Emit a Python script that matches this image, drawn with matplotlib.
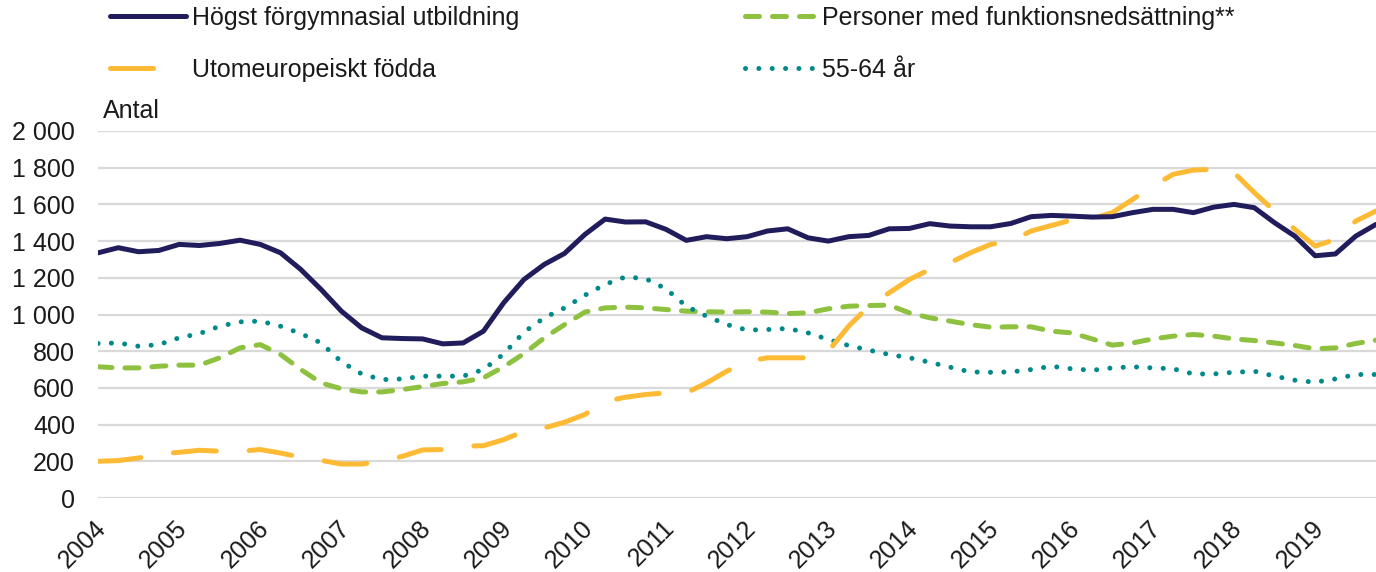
import matplotlib
matplotlib.use("Agg")
import matplotlib.pyplot as plt
import matplotlib.transforms as mtransforms
import numpy as np
from matplotlib.ticker import FuncFormatter

plt.rcParams['font.family'] = ['Liberation Sans', 'DejaVu Sans']

# Quarterly observations, 2004 Q1 .. 2019 Q4 (x = year + quarter/4)
start_year = 2004
n_quarters = 64
years = [2004 + i for i in range(16)]
year_labels = [str(y) for y in years]

hogst_forgymnasial = [
    1336, 1364, 1342, 1349,
    1382, 1376, 1387, 1405,
    1382, 1336, 1245, 1136,
    1018, 927, 873, 869,
    867, 840, 845, 909,
    1064, 1191, 1273, 1333,
    1436, 1520, 1504, 1505,
    1464, 1404, 1424, 1413,
    1424, 1455, 1467, 1418,
    1400, 1424, 1431, 1467,
    1469, 1495, 1482, 1478,
    1478, 1496, 1533, 1540,
    1536, 1531, 1533, 1555,
    1573, 1573, 1555, 1585,
    1600, 1582, 1500, 1427,
    1320, 1330, 1427, 1491,
]

utomeuropeiskt = [
    200, 204, 218, 240,
    249, 260, 255, 255,
    264, 245, 222, 205,
    185, 185, 200, 227,
    262, 264, 282, 285,
    318, 364, 382, 413,
    455, 527, 549, 564,
    573, 573, 627, 691,
    745, 764, 764, 764,
    800, 936, 1045, 1118,
    1191, 1245, 1282, 1336,
    1382, 1400, 1455, 1485,
    1515, 1522, 1555, 1627,
    1700, 1764, 1787, 1791,
    1773, 1664, 1564, 1464,
    1373, 1409, 1509, 1564,
]

funktionsnedsattning = [
    715, 709, 709, 718,
    724, 724, 764, 818,
    836, 782, 700, 627,
    595, 578, 578, 591,
    607, 624, 633, 655,
    715, 787, 873, 945,
    1013, 1036, 1040, 1036,
    1027, 1018, 1015, 1013,
    1015, 1013, 1005, 1009,
    1031, 1045, 1049, 1051,
    1009, 982, 964, 945,
    931, 933, 933, 909,
    900, 867, 833, 845,
    867, 882, 891, 882,
    867, 858, 845, 831,
    813, 818, 842, 860,
]

aldre_55_64 = [
    842, 845, 827, 836,
    873, 896, 936, 960,
    964, 936, 896, 845,
    742, 676, 645, 649,
    664, 664, 664, 700,
    785, 904, 982, 1036,
    1105, 1164, 1205, 1195,
    1140, 1045, 991, 945,
    915, 918, 924, 900,
    864, 831, 806, 782,
    764, 740, 713, 687,
    685, 687, 700, 718,
    704, 696, 709, 715,
    709, 704, 676, 676,
    685, 691, 664, 642,
    631, 649, 673, 673,
]

labels = ["Högst förgymnasial utbildning", "Utomeuropeiskt födda",
          "Personer med funktionsnedsättning**", "55-64 år"]
y_ticks = [0, 200, 400, 600, 800, 1000, 1200, 1400, 1600, 1800, 2000]

x = start_year + np.arange(n_quarters) / 4.0

W, H = 1376, 572
fig = plt.figure(figsize=(W / 100, H / 100), dpi=100)
ax = fig.add_axes([98 / W, 1 - 498 / H, (W - 98) / W, (498 - 131) / H])

FS = 18
TC = '#1A1A1A'
lw = 3.6
navy = '#211D5C'
orange = '#FDBA35'
green = '#8DC13F'
teal = '#00898A'

l1, = ax.plot(x, hogst_forgymnasial, color=navy, lw=lw, solid_capstyle='round',
              solid_joinstyle='round', zorder=5)
l2, = ax.plot(x, utomeuropeiskt, color=orange, lw=lw, dashes=(8.6, 6.6),
              dash_capstyle='round', dash_joinstyle='round', zorder=4)
l3, = ax.plot(x, funktionsnedsattning, color=green, lw=lw, dashes=(2.8, 2.6),
              dash_capstyle='round', dash_joinstyle='round', zorder=3)
l4, = ax.plot(x, aldre_55_64, color=teal, lw=lw, dashes=(0.01, 2.66),
              dash_capstyle='round', zorder=3)

ax.set_xlim(2004, 2019.75)
ax.set_ylim(0, 2000)
ax.set_yticks(y_ticks)
ax.yaxis.set_major_formatter(FuncFormatter(lambda v, p: f"{v:,.0f}".replace(",", " ")))
ax.set_xticks(years)
ax.set_xticklabels(year_labels, rotation=45, ha='right', va='top')
ax.tick_params(axis='x', length=0, pad=13, labelsize=FS, colors=TC)
ax.tick_params(axis='y', length=0, pad=16.5, labelsize=FS, colors=TC)
offset = mtransforms.ScaledTranslation(13 / 100, 0, fig.dpi_scale_trans)
for lab in ax.get_xticklabels():
    lab.set_transform(lab.get_transform() + offset)
for s in ax.spines.values():
    s.set_visible(False)
ax.grid(axis='y', color='#D9D9D9', lw=1.6)
ax.set_axisbelow(True)

fig.text(103 / W, 1 - 118 / H, "Antal", fontsize=FS, color=TC, va='baseline')

common = dict(loc='upper left', frameon=False, fontsize=FS, handletextpad=0.25,
              labelspacing=1.12, borderpad=0, borderaxespad=0)
fig.legend([l1, l2], labels[:2], bbox_to_anchor=(110 / W, 1 - 6 / H),
           handlelength=3.05, **common)
fig.legend([l3, l4], labels[2:], bbox_to_anchor=(745 / W, 1 - 6 / H),
           handlelength=2.85, **common)
for leg in fig.legends:
    for t in leg.get_texts():
        t.set_color(TC)

fig.savefig("out.png", dpi=100)
